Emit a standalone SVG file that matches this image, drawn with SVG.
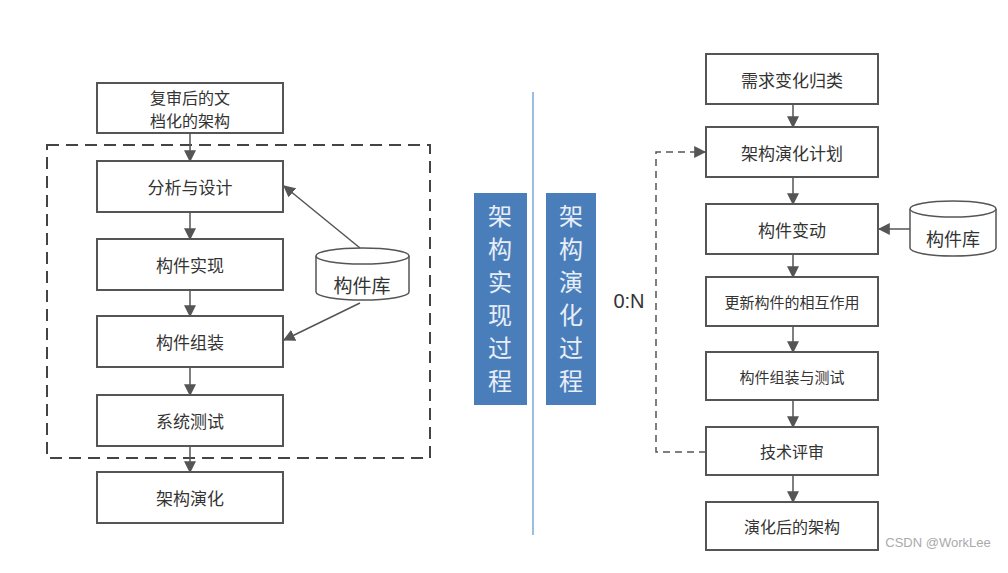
<svg xmlns="http://www.w3.org/2000/svg" width="1008" height="573" viewBox="0 0 1008 573">
<defs>
<style>
.b{fill:#fff;stroke:#555;stroke-width:2}
.t{font-family:"Noto Sans CJK SC","Noto Sans",sans-serif;font-size:17px;fill:#333;text-anchor:middle;dominant-baseline:central}
.c{stroke:#555;stroke-width:1.5;fill:none}
.d{stroke:#555;stroke-width:1.5;fill:none;stroke-dasharray:7,5}
.v{font-family:"Noto Sans CJK SC",sans-serif;font-size:24px;fill:#e8eef7;text-anchor:middle}
</style>
<marker id="a" viewBox="0 0 10 10" refX="9" refY="5" markerWidth="8" markerHeight="8" orient="auto"><path d="M0,0L10,5L0,10z" fill="#555"/></marker>
</defs>
<rect width="1008" height="573" fill="#fff"/>
<g id="connectors">
<rect x="47" y="145" width="383" height="313" fill="none" stroke="#444" stroke-width="2" stroke-dasharray="12,7"/>
<path class="c" d="M190,133V161" marker-end="url(#a)"/>
<path class="c" d="M190,212V239" marker-end="url(#a)"/>
<path class="c" d="M190,290V316" marker-end="url(#a)"/>
<path class="c" d="M190,367V395" marker-end="url(#a)"/>
<path class="c" d="M190,446V472" marker-end="url(#a)"/>
<path class="c" d="M360,248L284,186" marker-end="url(#a)"/>
<path class="c" d="M360,303L284,340" marker-end="url(#a)"/>
<line x1="533" y1="92" x2="533" y2="535" stroke="#9bbde0" stroke-width="2"/>
<path class="c" d="M793,104V127" marker-end="url(#a)"/>
<path class="c" d="M793,177V204" marker-end="url(#a)"/>
<path class="c" d="M793,254V277" marker-end="url(#a)"/>
<path class="c" d="M793,326V352" marker-end="url(#a)"/>
<path class="c" d="M793,400V427" marker-end="url(#a)"/>
<path class="c" d="M793,475V502" marker-end="url(#a)"/>
<path class="c" d="M910,229H879" marker-end="url(#a)"/>
<path class="d" d="M706,452H656V152H705" marker-end="url(#a)"/>
</g>
<g id="n1"><rect class="b" x="97" y="83" width="186" height="50"/><text class="t" x="190" y="97" style="font-size:16px">复审后的文</text><text class="t" x="190" y="120" style="font-size:16px">档化的架构</text></g>
<g id="n2"><rect class="b" x="97" y="161" width="186" height="51"/><text class="t" x="190" y="186">分析与设计</text></g>
<g id="n3"><rect class="b" x="97" y="239" width="186" height="51"/><text class="t" x="190" y="264">构件实现</text></g>
<g id="n4"><rect class="b" x="97" y="316" width="186" height="51"/><text class="t" x="190" y="341">构件组装</text></g>
<g id="n5"><rect class="b" x="97" y="395" width="186" height="51"/><text class="t" x="190" y="420">系统测试</text></g>
<g id="n6"><rect class="b" x="97" y="472" width="186" height="51"/><text class="t" x="190" y="497">架构演化</text></g>
<g id="lib1"><path d="M316,256V292A46.5,8 0 0 0 409,292V256" fill="#fff" stroke="#555" stroke-width="1.5"/><ellipse cx="362.5" cy="256" rx="46.5" ry="8" fill="#fff" stroke="#555" stroke-width="1.5"/><text class="t" x="362" y="284" style="font-size:19px">构件库</text></g>
<g id="p1"><rect x="474" y="193" width="53" height="212" fill="#4a7ebb"/>
<text class="v" x="500" y="225">架</text><text class="v" x="500" y="258">构</text><text class="v" x="500" y="291">实</text><text class="v" x="500" y="324">现</text><text class="v" x="500" y="357">过</text><text class="v" x="500" y="390">程</text></g>
<g id="p2"><rect x="546" y="193" width="50" height="212" fill="#4a7ebb"/>
<text class="v" x="571" y="225">架</text><text class="v" x="571" y="258">构</text><text class="v" x="571" y="291">演</text><text class="v" x="571" y="324">化</text><text class="v" x="571" y="357">过</text><text class="v" x="571" y="390">程</text></g>
<text x="629" y="308" style="font-family:'Liberation Sans',sans-serif;font-size:20px;fill:#333;text-anchor:middle">0:N</text>
<g id="r1"><rect class="b" x="706" y="54" width="172" height="50"/><text class="t" x="792" y="79">需求变化归类</text></g>
<g id="r2"><rect class="b" x="706" y="127" width="172" height="50"/><text class="t" x="792" y="152">架构演化计划</text></g>
<g id="r3"><rect class="b" x="706" y="204" width="172" height="50"/><text class="t" x="792" y="229">构件变动</text></g>
<g id="r4"><rect class="b" x="706" y="277" width="172" height="49"/><text class="t" x="792" y="301" style="font-size:15px">更新构件的相互作用</text></g>
<g id="r5"><rect class="b" x="706" y="352" width="172" height="48"/><text class="t" x="792" y="376" style="font-size:15px">构件组装与测试</text></g>
<g id="r6"><rect class="b" x="706" y="427" width="172" height="48"/><text class="t" x="792" y="451" style="font-size:16px">技术评审</text></g>
<g id="r7"><rect class="b" x="706" y="502" width="172" height="48"/><text class="t" x="792" y="526" style="font-size:16px">演化后的架构</text></g>
<g id="lib2"><path d="M910,209V248A43,8 0 0 0 996,248V209" fill="#fff" stroke="#555" stroke-width="1.5"/><ellipse cx="953" cy="209" rx="43" ry="8" fill="#fff" stroke="#555" stroke-width="1.5"/><text class="t" x="953" y="238" style="font-size:18px">构件库</text></g>
<text x="938" y="547" style="font-family:'Liberation Sans',sans-serif;font-size:13px;fill:#aaa;text-anchor:middle">CSDN @WorkLee</text>
</svg>
